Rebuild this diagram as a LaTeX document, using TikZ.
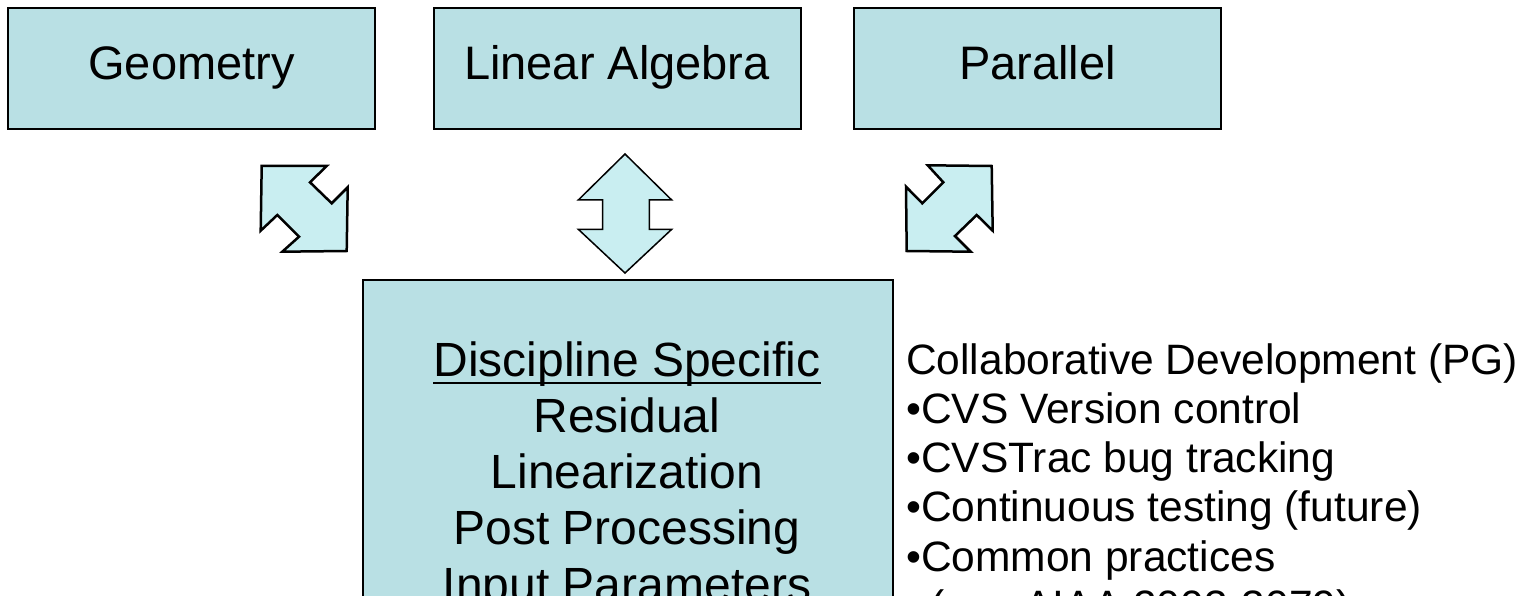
\documentclass[tikz,border=0pt]{standalone}
\usepackage{fontspec}
\setmainfont{Liberation Sans}
\definecolor{boxfill}{RGB}{185,224,228}
\definecolor{arrowfill}{RGB}{201,238,241}
\begin{document}
\begin{tikzpicture}[x=1pt,y=-1pt,
  topbox/.style={draw=black, line width=2pt, fill=boxfill, minimum width=367pt, minimum height=121pt,
    inner sep=0pt, font=\fontsize{47}{56}\selectfont, text height=34pt, text depth=11pt},
  bigbox/.style={draw=black, line width=2pt, fill=boxfill, minimum width=530pt, minimum height=360pt, inner sep=0pt},
  bodytext/.style={inner sep=0pt, font=\fontsize{48}{56}\selectfont},
  sidetext/.style={inner sep=0pt, anchor=base west, font=\fontsize{42.5}{49}\selectfont},
  blockarrow/.style={draw=black, fill=arrowfill, line join=miter},
]
\clip (0,0) rectangle (1526,596);
% top boxes
\node[topbox] (geo) at (191.5,68.5) {Geometry};
\node[topbox] (lin) at (617,68.5) {Linear Algebra};
\node[topbox] (par) at (1037.5,68.5) {Parallel};
% big box
\node[bigbox] (disc) at (628,460) {};
% block arrows
\draw[blockarrow, line width=2.5pt] (261.7,166) -- (326.7,166) -- (310,182.3) -- (331.7,203.3) -- (347.7,187.3)
  -- (346.7,251) -- (282.3,251.7) -- (299,236.7) -- (277.3,215) -- (260.7,230.7) -- cycle;
\draw[blockarrow, line width=2.5pt] (991.7,166) -- (927.7,165.3) -- (943.3,182.3) -- (922.3,203.3) -- (906,186.7)
  -- (906.7,251) -- (970.7,251.7) -- (955,236) -- (976.7,215) -- (992.7,230.7) -- cycle;
\draw[blockarrow, line width=1.5pt] (625,154) -- (671.7,200) -- (649.3,200) -- (649.3,229.3) -- (671.7,229.3)
  -- (625,273) -- (578.3,229.3) -- (602.7,229.3) -- (602.7,200) -- (578.3,200) -- cycle;
% big box text
\node[bodytext, anchor=base] (d1) at (627,376) {Discipline Specific};
\draw[line width=2.5pt] ([yshift=-7pt]d1.base west) -- ([yshift=-7pt]d1.base east);
\node[bodytext, anchor=base] (d2) at (627,432.25) {Residual};
\node[bodytext, anchor=base] (d3) at (627,488.5) {Linearization};
\node[bodytext, anchor=base] (d4) at (627,544.75) {Post Processing};
\node[bodytext, anchor=base] (d5) at (627,601) {Input Parameters};
% side text
\node[sidetext] (s1) at (906,374) {Collaborative Development (PG)};
\node[sidetext] (s2) at (906,423.25) {\textbullet CVS Version control};
\node[sidetext] (s3) at (906,472.5) {\textbullet CVSTrac bug tracking};
\node[sidetext] (s4) at (906,521.75) {\textbullet Continuous testing (future)};
\node[sidetext] (s5) at (906,571) {\textbullet Common practices};
\node[sidetext] (s6) at (930,620.25) {(see AIAA 2003-3079)};
\end{tikzpicture}
\end{document}
